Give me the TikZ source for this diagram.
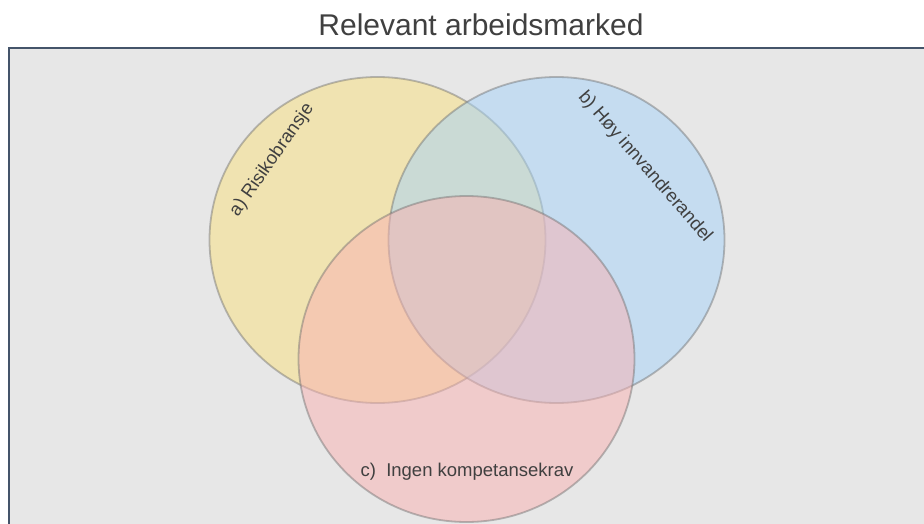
\documentclass[tikz,border=0pt]{standalone}
\usepackage{fontspec}
\setmainfont{Liberation Sans}
\usetikzlibrary{shapes.geometric}
\definecolor{bggray}{RGB}{231,231,231}
\definecolor{framecol}{RGB}{68,84,106}
\definecolor{txtcol}{RGB}{64,64,64}
\definecolor{ycol}{RGB}{249,225,125}
\definecolor{bcol}{RGB}{165,211,249}
\definecolor{rcol}{RGB}{249,177,177}
\definecolor{edgecol}{RGB}{110,110,110}
\begin{document}
\begin{tikzpicture}[x=1pt,y=-1pt,
  setshape/.style={ellipse, minimum width=336pt, minimum height=326pt, inner sep=0pt,
    fill opacity=0.5, draw=edgecol, draw opacity=0.45, line width=1.8pt},
  labeltext/.style={font=\fontsize{18.5}{22}\selectfont, text=txtcol, inner sep=0pt},
  titletext/.style={font=\fontsize{30}{36}\selectfont, text=txtcol, inner sep=0pt},
  framebox/.style={fill=bggray, draw=framecol, line width=1.8pt}
]
\useasboundingbox (0,0) rectangle (924,524);
\fill[white] (0,0) rectangle (924,524);
\begin{scope}
\clip (0,0) rectangle (924,524);
\draw[framebox] (9,48) rectangle (960,560);
\node[setshape, fill=ycol] (setA) at (377.5,240) {};
\node[setshape, fill=bcol] (setB) at (556.5,240) {};
\node[setshape, fill=rcol] (setC) at (466.5,359) {};
\end{scope}
\node[titletext] (title) at (481,25) {Relevant arbeidsmarked};
\node[labeltext, rotate=55] (labA) at (272,160) {a) Risikobransje};
\node[labeltext, rotate=-49] (labB) at (645,167) {b) Høy innvandrerandel};
\node[labeltext] (labC) at (467,472) {c)\ \ Ingen kompetansekrav};
\end{tikzpicture}
\end{document}
